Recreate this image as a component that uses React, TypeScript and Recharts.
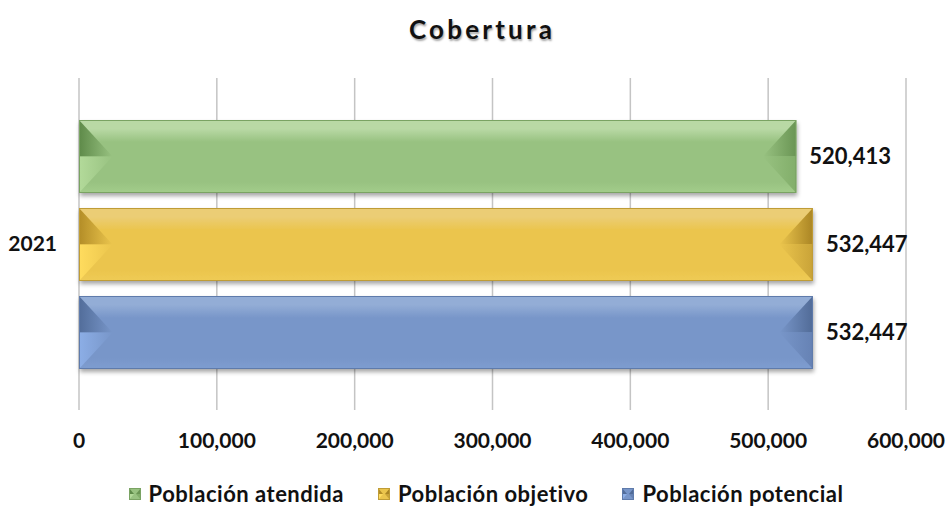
import { BarChart, Bar, XAxis, YAxis, CartesianGrid, Legend, LabelList } from 'recharts';

const YEARS = ['2021'];
const ATENDIDA = [520413];
const OBJETIVO = [532447];
const POTENCIAL = [532447];
const X_TICKS = [0, 100000, 200000, 300000, 400000, 500000, 600000];

const SERIES = [
  { key: 'atendida', name: 'Población atendida', values: ATENDIDA },
  { key: 'objetivo', name: 'Población objetivo', values: OBJETIVO },
  { key: 'potencial', name: 'Población potencial', values: POTENCIAL },
];

const PAL: Record<string, any> = {
  atendida:  { top: '#b9d9a5', main: '#98c281', bottom: '#a3cd8b', dark: '#5e8a49', bright: '#b3da9a', rdark: '#6a9554', rmid: '#82ae6a', border: '#7aa363' },
  objetivo:  { top: '#ebcd75', main: '#ebc54d', bottom: '#efcb55', dark: '#b38d27', bright: '#ffdc5e', rdark: '#aa8524', rmid: '#c9a338', border: '#bf9c36' },
  potencial: { top: '#93add6', main: '#7896c9', bottom: '#7e9dd0', dark: '#526d9a', bright: '#8caee6', rdark: '#516b97', rmid: '#6682b4', border: '#5f7bab' },
};

const data = YEARS.map((year, i) => ({
  year,
  atendida: ATENDIDA[i],
  objetivo: OBJETIVO[i],
  potencial: POTENCIAL[i],
}));

const FONT = 'Lato, "Open Sans", sans-serif';
const fmt = (v: number) => v.toLocaleString('en-US');

// ── Bevelled bar, Excel-style ────────────────────────────────────────────────

function BevelBar({ x, y, width, height, pal, id }: any) {
  if (!width || !height) return null;
  const d = height * 0.46;
  const my = y + height / 2;
  const r = x + width;
  const b = y + height;
  return (
    <g>
      <defs>
        <linearGradient id={`grad-${id}`} x1="0" y1="0" x2="0" y2="1">
          <stop offset="0" stopColor={pal.top} />
          <stop offset="0.12" stopColor={pal.top} />
          <stop offset="0.3" stopColor={pal.main} />
          <stop offset="0.85" stopColor={pal.main} />
          <stop offset="1" stopColor={pal.bottom} />
        </linearGradient>
        <linearGradient id={`lt-${id}`} x1="0" y1="0" x2="1" y2="0">
          <stop offset="0" stopColor={pal.dark} />
          <stop offset="1" stopColor={pal.main} />
        </linearGradient>
        <linearGradient id={`lb-${id}`} x1="0" y1="0" x2="1" y2="0">
          <stop offset="0" stopColor={pal.bright} />
          <stop offset="1" stopColor={pal.main} />
        </linearGradient>
        <linearGradient id={`rt-${id}`} x1="1" y1="0" x2="0" y2="0">
          <stop offset="0" stopColor={pal.rdark} />
          <stop offset="1" stopColor={pal.main} />
        </linearGradient>
        <linearGradient id={`rb-${id}`} x1="1" y1="0" x2="0" y2="0">
          <stop offset="0" stopColor={pal.rmid} />
          <stop offset="1" stopColor={pal.main} />
        </linearGradient>
        <filter id={`sh-${id}`} x="-5%" y="-20%" width="110%" height="150%">
          <feDropShadow dx="1" dy="3" stdDeviation="2" floodColor="#000" floodOpacity="0.35" />
        </filter>
      </defs>
      <rect x={x} y={y} width={width} height={height} fill={`url(#grad-${id})`} filter={`url(#sh-${id})`} />
      <polygon points={`${x},${y} ${x + d},${my} ${x},${my}`} fill={`url(#lt-${id})`} />
      <polygon points={`${x},${my} ${x + d},${my} ${x},${b}`} fill={`url(#lb-${id})`} />
      <polygon points={`${r},${y} ${r - d},${my} ${r},${my}`} fill={`url(#rt-${id})`} />
      <polygon points={`${r},${my} ${r - d},${my} ${r},${b}`} fill={`url(#rb-${id})`} />
      <rect x={x + 0.5} y={y + 0.5} width={width - 1} height={height - 1} fill="none" stroke={pal.border} strokeWidth={1} />
    </g>
  );
}

function LegendIcon({ pal }: any) {
  return (
    <svg width={12} height={12} style={{ display: 'block' }}>
      <rect x={0} y={0} width={12} height={12} fill={pal.main} />
      <polygon points="0,0 5,6 0,6" fill={pal.dark} />
      <polygon points="0,6 5,6 0,12" fill={pal.bright} />
      <polygon points="12,0 7,6 12,6" fill={pal.rdark} />
      <polygon points="12,6 7,6 12,12" fill={pal.rmid} />
      <rect x={0.5} y={0.5} width={11} height={11} fill="none" stroke={pal.border} />
    </svg>
  );
}

function LegendContent() {
  return (
    <div style={{ display: 'flex', justifyContent: 'center', alignItems: 'center', gap: 34, paddingLeft: 24 }}>
      {SERIES.map(s => (
        <div key={s.key} style={{ display: 'flex', alignItems: 'center', gap: 8 }}>
          <LegendIcon pal={PAL[s.key]} />
          <span style={{ fontFamily: FONT, fontWeight: 700, fontSize: 22, letterSpacing: 0.5, color: '#111' }}>{s.name}</span>
        </div>
      ))}
    </div>
  );
}

export default function App() {
  return (
    <div style={{ position: 'fixed', left: 0, top: 0, width: 948, height: 508, background: '#fff' }}>
      <div style={{
        position: 'absolute', left: 0, top: 13, width: 948, textAlign: 'center',
        fontFamily: FONT, fontWeight: 700, fontSize: 26, letterSpacing: 3.2, color: '#111',
        textShadow: '1px 2px 2px rgba(0,0,0,0.35)', paddingLeft: 8,
      }}>
        Cobertura
      </div>
      <BarChart
        width={948}
        height={508}
        data={data}
        layout="vertical"
        margin={{ top: 78, right: 42, bottom: 48, left: 0 }}
        barCategoryGap={42}
        barGap={15}
      >
        <CartesianGrid horizontal={false} stroke="#c4c4c4" strokeWidth={1.5} />
        <XAxis
          type="number"
          domain={[0, 600000]}
          ticks={X_TICKS}
          tickFormatter={fmt}
          axisLine={false}
          tickLine={false}
          tickSize={0}
          tickMargin={23}
          height={50}
          interval={0}
          tick={{ fontFamily: FONT, fontWeight: 700, fontSize: 21, fill: '#111' }}
        />
        <YAxis
          type="category"
          dataKey="year"
          width={79}
          axisLine={false}
          tickLine={false}
          tickSize={0}
          tickMargin={22}
          tick={{ fontFamily: FONT, fontWeight: 700, fontSize: 21, fill: '#111' }}
        />
        <Legend
          verticalAlign="middle"
          content={<LegendContent />}
          wrapperStyle={{ top: 480, left: 0, width: 948 }}
        />
        {SERIES.map(s => (
          <Bar
            key={s.key}
            dataKey={s.key}
            name={s.name}
            fill={PAL[s.key].main}
            isAnimationActive={false}
            shape={(p: any) => <BevelBar {...p} pal={PAL[s.key]} id={s.key} />}
          >
            <LabelList
              dataKey={s.key}
              position="right"
              offset={13}
              formatter={(v: any) => fmt(Number(v))}
              style={{ fontFamily: FONT, fontWeight: 700, fontSize: 22, fill: '#111' }}
            />
          </Bar>
        ))}
      </BarChart>
    </div>
  );
}
